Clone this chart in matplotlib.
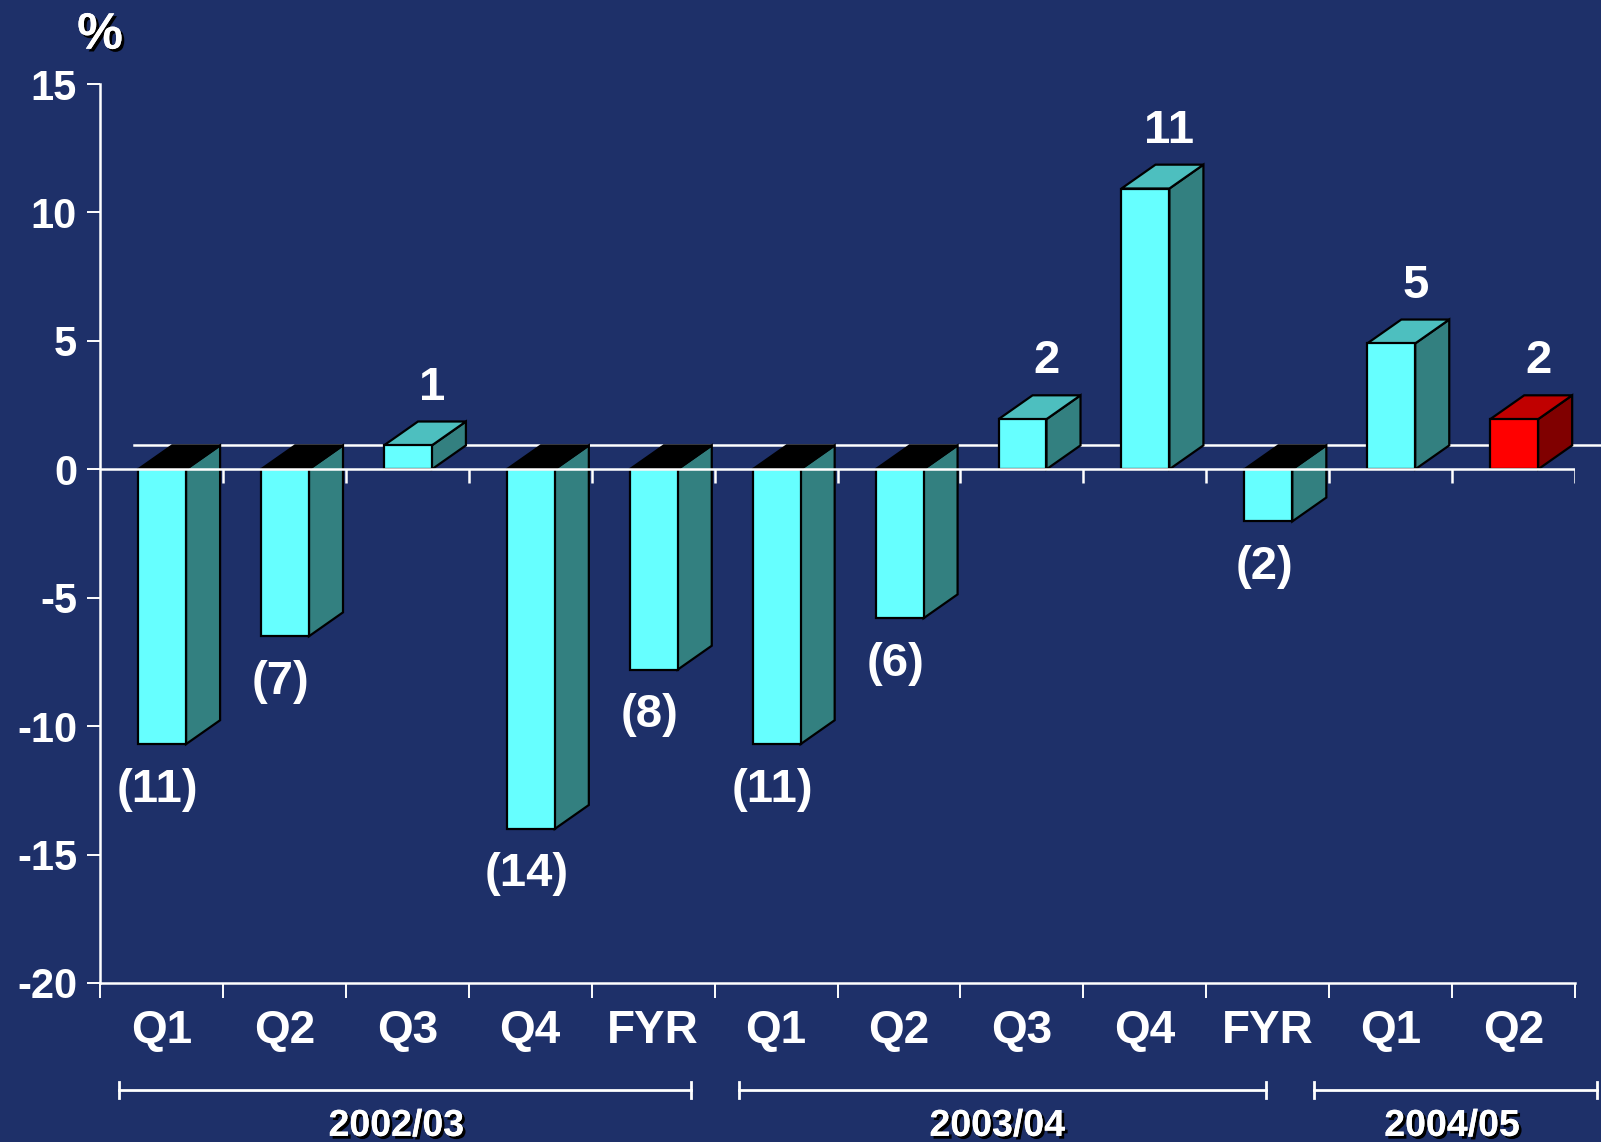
import matplotlib
matplotlib.use("Agg")
import matplotlib.pyplot as plt
from matplotlib.patches import Polygon
import matplotlib.patheffects as pe

# data
periods = ["Q1", "Q2", "Q3", "Q4", "FYR", "Q1", "Q2", "Q3", "Q4", "FYR", "Q1", "Q2"]
values = [-10.7, -6.5, 0.93, -14.0, -7.8, -10.7, -5.8, 1.95, 10.93, -2.03, 4.9, 1.95]
labels = ["(11)", "(7)", "1", "(14)", "(8)", "(11)", "(6)", "2", "11", "(2)", "5", "2"]
years = ["2002/03", "2003/04", "2004/05"]
year_spans = [(0.155, 4.81), (5.2, 9.49), (9.88, 12.18)]
year_centers = [2.41, 7.3, 11.0]
highlight = [False] * 11 + [True]

BG = "#1E3069"
WHITE = "white"
FONT = "Liberation Sans"

# colours of the 3d boxes: front, side, top
cyan = ("#66FFFF", "#338080", "#4DBFBF")
red = ("#FF0000", "#800000", "#C00000")

plt.rcParams["font.family"] = [FONT, "DejaVu Sans"]
plt.rcParams["font.weight"] = "bold"

fig = plt.figure(figsize=(16.01, 11.42), dpi=100, facecolor=BG)
ax = fig.add_axes([100 / 1601, 159 / 1142, 1475 / 1601, 899 / 1142])
ax.set_facecolor(BG)
ax.set_xlim(0, 12)
ax.set_ylim(-20, 15)

# depth of the fake 3d effect
dx = 0.277   # in slots
dy = 0.93    # in value units
x_off, w = 0.31, 0.39

# back floor line
ax.plot([dx, 12.3], [dy, dy], color=WHITE, lw=1.8, clip_on=False, zorder=1)

for i, (v, hl) in enumerate(zip(values, highlight)):
    front, side, top = red if hl else cyan
    x0 = i + x_off
    x1 = x0 + w
    lo, hi = min(0, v), max(0, v)
    kw = dict(edgecolor="black", lw=1.6, joinstyle="miter", zorder=3)
    ax.add_patch(Polygon([(x1, lo), (x1 + dx, lo + dy), (x1 + dx, hi + dy), (x1, hi)],
                         facecolor=side, **kw))
    top_col = top if v > 0 else "black"
    ax.add_patch(Polygon([(x0, hi), (x1, hi), (x1 + dx, hi + dy), (x0 + dx, hi + dy)],
                         facecolor=top_col, **kw))
    ax.add_patch(Polygon([(x0, 0), (x1, 0), (x1, v), (x0, v)], facecolor=front, **kw))

    # value labels
    c = i + 0.5
    if v > 0:
        ax.text(c + 0.2, v + 2.25, labels[i], color=WHITE, fontsize=34,
                fontweight="bold", ha="center", va="center", zorder=5)
    else:
        ax.text(c - 0.03, v - 1.77, labels[i], color=WHITE, fontsize=34,
                fontweight="bold", ha="center", va="center", zorder=5)

# zero line with small ticks
ax.axhline(0, color=WHITE, lw=1.8, zorder=4)
ax.vlines(range(1, 13), -0.55, 0, color=WHITE, lw=1.8, zorder=4)

# axes styling
for s in ["top", "right"]:
    ax.spines[s].set_visible(False)
for s in ["left", "bottom"]:
    ax.spines[s].set_color(WHITE)
    ax.spines[s].set_linewidth(1.8)

ax.set_yticks(range(-20, 16, 5))
ax.set_yticklabels([str(t) for t in range(-20, 16, 5)])
ax.tick_params(axis="y", colors=WHITE, length=9.5, width=1.4, pad=7, labelsize=30)

ax.set_xticks(range(0, 13))
ax.set_xticklabels([])
ax.set_xticks([i + 0.5 for i in range(12)], minor=True)
ax.set_xticklabels(periods, minor=True)
ax.tick_params(axis="x", which="major", colors=WHITE, length=10.5, width=1.4)
ax.tick_params(axis="x", which="minor", colors=WHITE, length=0, pad=19, labelsize=33)
for lab in ax.get_xticklabels(minor=True) + ax.get_yticklabels():
    lab.set_fontweight("bold")

shadow = [pe.withSimplePatchShadow(offset=(2, -2), shadow_rgbFace="black", alpha=1.0), pe.Normal()]

# % sign
ax.text(0, 16.9, "%", color=WHITE, fontsize=37, fontweight="bold",
        ha="center", va="center", clip_on=False, path_effects=shadow)

# year brackets
yb = -20 - (1090 - 983) / 25.7
cap = 0.3
for (a, b), xc, yr in zip(year_spans, year_centers, years):
    ax.plot([a, b], [yb, yb], color=WHITE, lw=2, clip_on=False)
    ax.plot([a, a], [yb - cap, yb + cap], color=WHITE, lw=2, clip_on=False)
    ax.plot([b, b], [yb - cap, yb + cap], color=WHITE, lw=2, clip_on=False)
    ax.text(xc, yb - 1.4, yr, color=WHITE, fontsize=27, fontweight="bold",
            ha="center", va="center", clip_on=False, path_effects=shadow)

fig.savefig("out.png", dpi=100, facecolor=BG)
